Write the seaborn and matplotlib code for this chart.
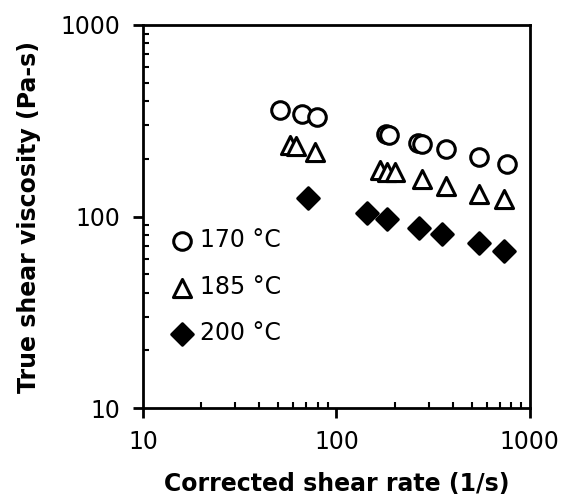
import numpy as np
import pandas as pd
import matplotlib
matplotlib.use("Agg")
import matplotlib.pyplot as plt
import seaborn as sns

# --- data ---
rate_170 = [51.3, 66.4, 79.4, 179.5, 186.6, 263, 278, 367, 546, 760]
visc_170 = [360, 343, 332, 270, 266, 243, 239, 224, 205, 188]

rate_185 = [57.3, 62.1, 77.8, 169, 183, 202, 276, 367, 546, 736]
visc_185 = [236, 233, 218, 175, 171, 171, 156, 144, 131, 123]

rate_200 = [71.4, 144, 183, 267, 353, 546, 736]
visc_200 = [125, 104, 96.5, 87.6, 81, 72.4, 66]

temps = ["170 °C", "185 °C", "200 °C"]

sns.set_theme(style="white")
plt.rcParams['font.family'] = ['DejaVu Sans']
plt.rcParams['text.color'] = 'black'
plt.rcParams['axes.labelcolor'] = 'black'
fs = 17

fig = plt.figure(figsize=(5.63, 4.96), dpi=100)
ax = fig.add_axes([0.254, 0.177, 0.687, 0.773])

series = [
    (rate_170, visc_170, 'o', 'white', 160),
    (rate_185, visc_185, '^', 'white', 170),
    (rate_200, visc_200, 'D', 'black', 120),
]
for (x, y, m, fc, s), lab in zip(series, temps):
    df = pd.DataFrame({'rate': x, 'visc': y})
    sns.scatterplot(data=df, x='rate', y='visc', marker=m, s=s,
                    facecolor=fc, edgecolor='black', linewidth=2.2,
                    label=lab, ax=ax, zorder=3)

ax.set_xscale('log')
ax.set_yscale('log')
ax.set_xlim(10, 1000)
ax.set_ylim(10, 1000)
ax.set_xticks([10, 100, 1000])
ax.set_xticklabels(['10', '100', '1000'])
ax.set_yticks([10, 100, 1000])
ax.set_yticklabels(['10', '100', '1000'])

ax.tick_params(which='major', direction='out', length=7, width=2,
               bottom=True, left=True, top=False, right=False,
               labelsize=fs, pad=9, colors='black')
ax.tick_params(which='minor', direction='in', length=4.5, width=1.5,
               bottom=True, left=True, top=False, right=False, colors='black')
for sp in ax.spines.values():
    sp.set_linewidth(2)
    sp.set_color('black')

ax.set_xlabel('Corrected shear rate (1/s)', fontsize=fs, fontweight='bold',
              labelpad=13, color='black')
ax.set_ylabel('True shear viscosity (Pa-s)', fontsize=fs, fontweight='bold',
              labelpad=14, color='black')

leg = ax.legend(loc='upper left', bbox_to_anchor=(0.05, 0.50), frameon=False,
                handlelength=0.7, handletextpad=0.4, labelspacing=0.95,
                borderpad=0, fontsize=fs)
for t in leg.get_texts():
    t.set_color('black')

fig.savefig('out.png', dpi=100)
